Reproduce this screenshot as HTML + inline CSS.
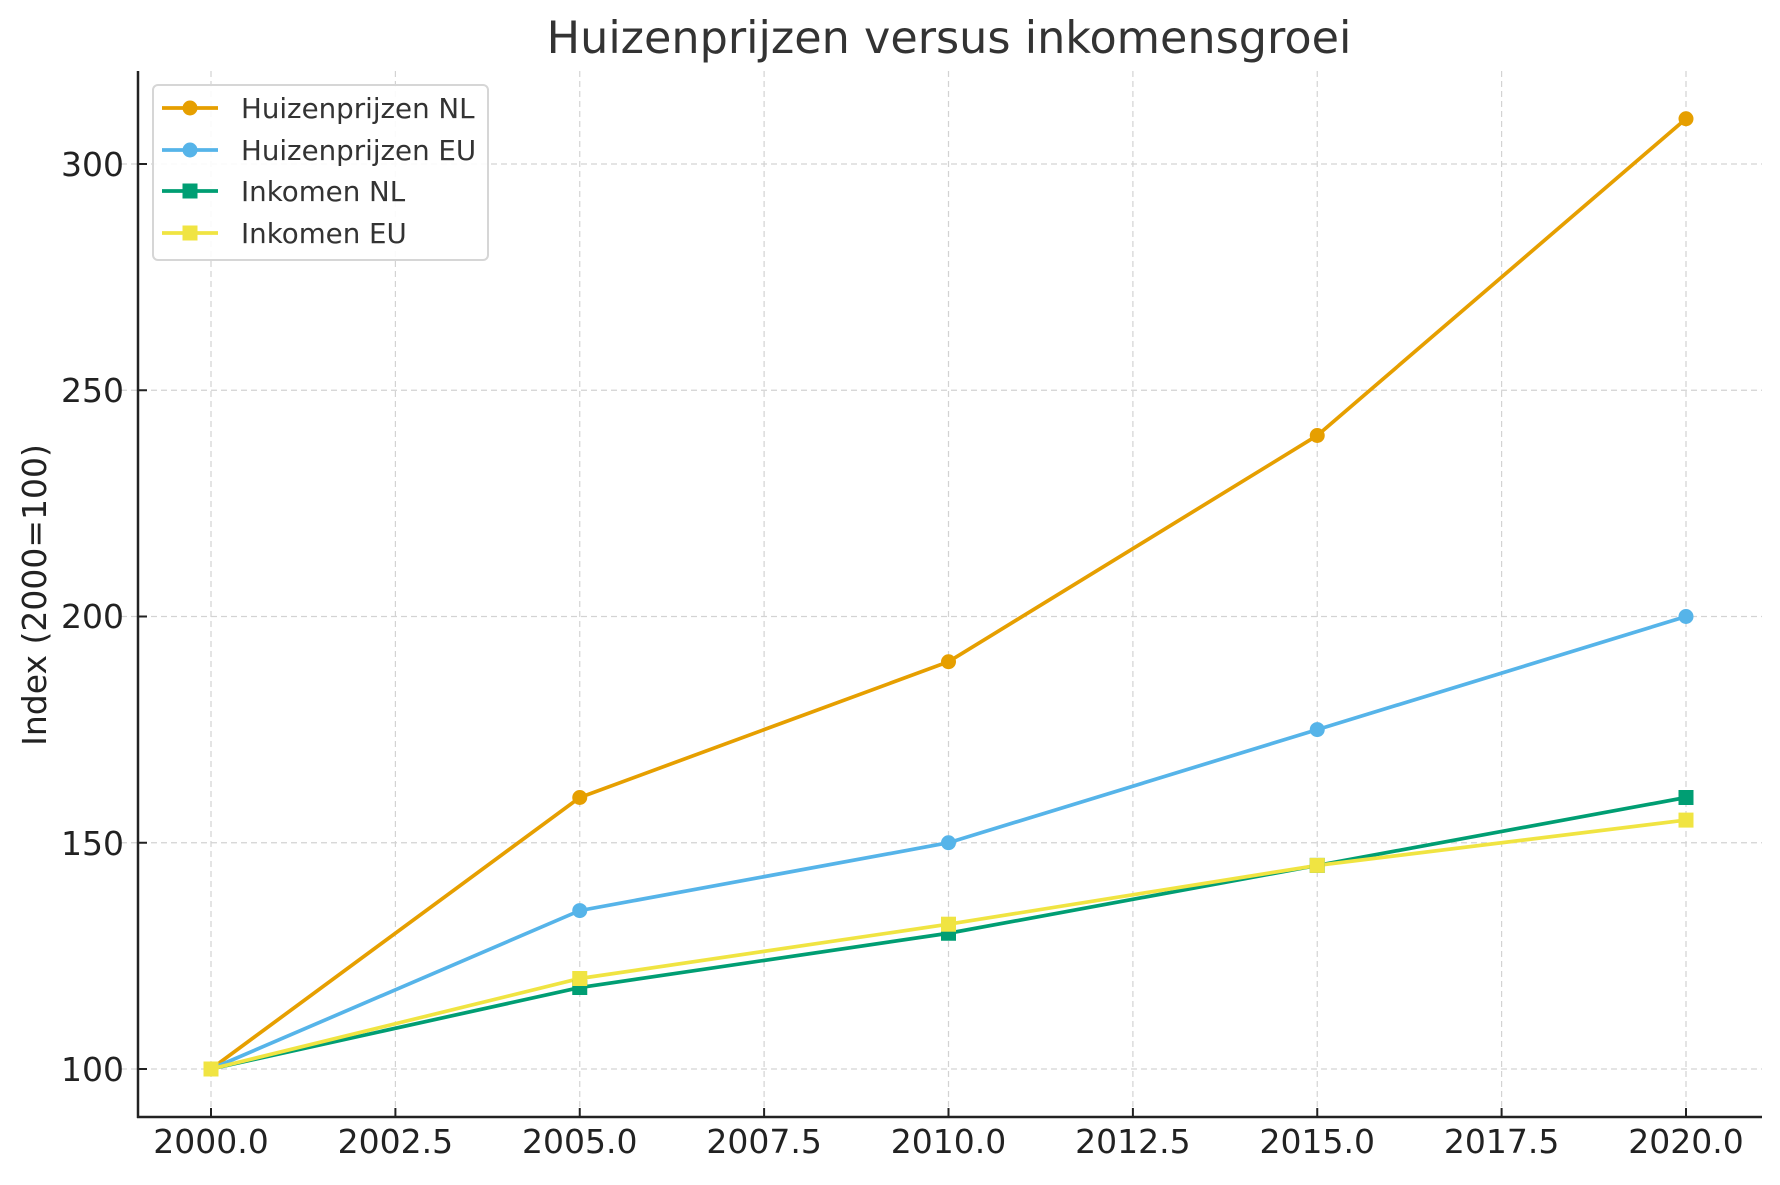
<!DOCTYPE html>
<html><head><meta charset="utf-8"><style>html,body{margin:0;padding:0;background:#fff}</style></head>
<body>
<svg width="1780" height="1180" xmlns="http://www.w3.org/2000/svg" font-family="DejaVu Sans, Liberation Sans, sans-serif">
<rect width="1780" height="1180" fill="#fff"/>
<g stroke="#d3d3d3" stroke-width="1.2" stroke-dasharray="6,4">
<line x1="211" y1="71" x2="211" y2="1117"/><line x1="395.4" y1="71" x2="395.4" y2="1117"/><line x1="579.75" y1="71" x2="579.75" y2="1117"/><line x1="764.1" y1="71" x2="764.1" y2="1117"/><line x1="948.5" y1="71" x2="948.5" y2="1117"/><line x1="1132.9" y1="71" x2="1132.9" y2="1117"/><line x1="1317.25" y1="71" x2="1317.25" y2="1117"/><line x1="1501.6" y1="71" x2="1501.6" y2="1117"/><line x1="1686" y1="71" x2="1686" y2="1117"/>
<line x1="121" y1="1069" x2="1762" y2="1069"/><line x1="121" y1="842.75" x2="1762" y2="842.75"/><line x1="121" y1="616.5" x2="1762" y2="616.5"/><line x1="121" y1="390.25" x2="1762" y2="390.25"/><line x1="121" y1="164" x2="1762" y2="164"/>
</g>
<g stroke="#222" stroke-width="2.5"><line x1="138" y1="71" x2="138" y2="1118"/><line x1="137" y1="1117" x2="1762" y2="1117"/></g>
<g stroke="#222" stroke-width="2">
<line x1="211" y1="1117" x2="211" y2="1108"/><line x1="395.4" y1="1117" x2="395.4" y2="1108"/><line x1="579.75" y1="1117" x2="579.75" y2="1108"/><line x1="764.1" y1="1117" x2="764.1" y2="1108"/><line x1="948.5" y1="1117" x2="948.5" y2="1108"/><line x1="1132.9" y1="1117" x2="1132.9" y2="1108"/><line x1="1317.25" y1="1117" x2="1317.25" y2="1108"/><line x1="1501.6" y1="1117" x2="1501.6" y2="1108"/><line x1="1686" y1="1117" x2="1686" y2="1108"/>
<line x1="138" y1="1069" x2="147" y2="1069"/><line x1="138" y1="842.75" x2="147" y2="842.75"/><line x1="138" y1="616.5" x2="147" y2="616.5"/><line x1="138" y1="390.25" x2="147" y2="390.25"/><line x1="138" y1="164" x2="147" y2="164"/>
</g>
<g font-size="33" fill="#222" text-anchor="middle">
<text x="211" y="1153">2000.0</text><text x="395.4" y="1153">2002.5</text><text x="579.75" y="1153">2005.0</text><text x="764.1" y="1153">2007.5</text><text x="948.5" y="1153">2010.0</text><text x="1132.9" y="1153">2012.5</text><text x="1317.25" y="1153">2015.0</text><text x="1501.6" y="1153">2017.5</text><text x="1686" y="1153">2020.0</text>
</g>
<g font-size="33" fill="#222" text-anchor="end">
<text x="124" y="1081">100</text><text x="124" y="855">150</text><text x="124" y="628">200</text><text x="124" y="402">250</text><text x="124" y="176">300</text>
</g>
<text transform="translate(46,595) rotate(-90)" font-size="33" fill="#222" text-anchor="middle">Index (2000=100)</text>
<text x="949" y="53" font-size="44.5" fill="#333" text-anchor="middle">Huizenprijzen versus inkomensgroei</text>
<g fill="none" stroke-width="3.7">
<polyline stroke="#E69F00" points="211,1069 579.75,797.5 948.5,661.75 1317.25,435.5 1686,118.75"/>
<polyline stroke="#56B4E9" points="211,1069 579.75,910.6 948.5,842.75 1317.25,729.6 1686,616.5"/>
<polyline stroke="#009E73" points="211,1069 579.75,987.55 948.5,933.25 1317.25,865.4 1686,797.5"/>
<polyline stroke="#F0E442" points="211,1069 579.75,978.5 948.5,924.2 1317.25,865.4 1686,820.1"/>
</g>
<g fill="#E69F00"><circle cx="211" cy="1069" r="7.5"/><circle cx="579.75" cy="797.5" r="7.5"/><circle cx="948.5" cy="661.75" r="7.5"/><circle cx="1317.25" cy="435.5" r="7.5"/><circle cx="1686" cy="118.75" r="7.5"/></g>
<g fill="#56B4E9"><circle cx="211" cy="1069" r="7.5"/><circle cx="579.75" cy="910.6" r="7.5"/><circle cx="948.5" cy="842.75" r="7.5"/><circle cx="1317.25" cy="729.6" r="7.5"/><circle cx="1686" cy="616.5" r="7.5"/></g>
<g fill="#009E73"><rect x="203.5" y="1061.5" width="15" height="15"/><rect x="572.25" y="980" width="15" height="15"/><rect x="941" y="925.75" width="15" height="15"/><rect x="1309.75" y="857.9" width="15" height="15"/><rect x="1678.5" y="790" width="15" height="15"/></g>
<g fill="#F0E442"><rect x="203.5" y="1061.5" width="15" height="15"/><rect x="572.25" y="971" width="15" height="15"/><rect x="941" y="916.7" width="15" height="15"/><rect x="1309.75" y="857.9" width="15" height="15"/><rect x="1678.5" y="812.6" width="15" height="15"/></g>
<rect x="153" y="85" width="335" height="175" rx="5" fill="#fff" fill-opacity="0.9" stroke="#d6d6d6" stroke-width="2"/>
<g stroke-width="3.7"><line x1="162" y1="108" x2="218" y2="108" stroke="#E69F00"/><line x1="162" y1="150" x2="218" y2="150" stroke="#56B4E9"/><line x1="162" y1="191" x2="218" y2="191" stroke="#009E73"/><line x1="162" y1="233" x2="218" y2="233" stroke="#F0E442"/></g>
<circle cx="190" cy="108" r="7.5" fill="#E69F00"/><circle cx="190" cy="150" r="7.5" fill="#56B4E9"/>
<rect x="182.5" y="183.5" width="15" height="15" fill="#009E73"/><rect x="182.5" y="225.5" width="15" height="15" fill="#F0E442"/>
<g font-size="27.7" fill="#333"><text x="241" y="118">Huizenprijzen NL</text><text x="241" y="160">Huizenprijzen EU</text><text x="241" y="201">Inkomen NL</text><text x="241" y="243">Inkomen EU</text></g>
</svg>
</body></html>
